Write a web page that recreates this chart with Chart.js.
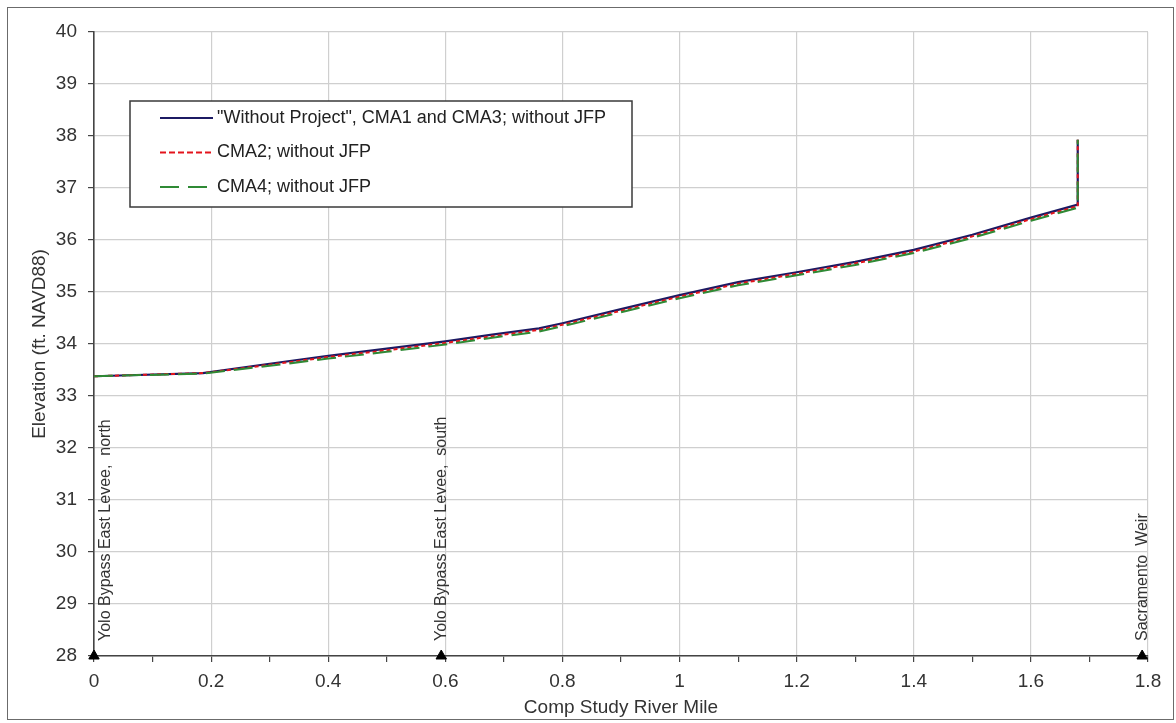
<!DOCTYPE html>
<html>
<head>
<meta charset="utf-8">
<script src="https://cdn.jsdelivr.net/npm/chart.js@4"></script>
<style>
    html, body { margin: 0; padding: 0; background: #ffffff; }
    #wrap { position: relative; width: 1176px; height: 723px; }
    #frame { position: absolute; left: 7px; top: 7px; width: 1167px; height: 713px; border: 1px solid #6b6b6b; box-sizing: border-box; pointer-events: none; }
</style>
</head>
<body>
<div id="wrap">
    <canvas id="elevChart" width="1176" height="723"></canvas>
    <div id="frame"></div>
</div>
<script>
// River mile stations and water surface elevations (ft NAVD88)
const riverMile = [0, 0.186, 0.3, 0.4, 0.5, 0.6, 0.68, 0.76, 0.8, 0.9, 1.0, 1.1, 1.2, 1.3, 1.4, 1.5, 1.6, 1.68, 1.68];
const withoutProject = [33.38, 33.44, 33.62, 33.77, 33.91, 34.05, 34.18, 34.30, 34.40, 34.67, 34.94, 35.19, 35.38, 35.58, 35.81, 36.10, 36.43, 36.68, 37.93];
const cma2 = [33.38, 33.44, 33.60, 33.75, 33.88, 34.02, 34.15, 34.27, 34.37, 34.64, 34.91, 35.16, 35.35, 35.55, 35.78, 36.07, 36.40, 36.65, 37.93];
const cma4 = [33.38, 33.43, 33.58, 33.72, 33.85, 33.99, 34.12, 34.24, 34.34, 34.61, 34.88, 35.13, 35.32, 35.52, 35.75, 36.04, 36.37, 36.62, 37.93];

const seriesNames = ['"Without Project", CMA1 and CMA3; without JFP', 'CMA2; without JFP', 'CMA4; without JFP'];

// Landmark markers along the axis
const landmarkMile = [0, 0.593, 1.79];
const landmarkElev = [28, 28, 28];
const landmarkNames = ['Yolo Bypass East Levee,  north', 'Yolo Bypass East Levee,  south', 'Sacramento  Weir'];

// Axis ranges
const xMin = 0, xMax = 1.8, xStep = 0.1;
const yMin = 28, yMax = 40, yStep = 1;

const FONT = "'Liberation Sans', Arial, sans-serif";

function toPoints(xs, ys) {
    return xs.map((x, i) => ({ x: x, y: ys[i] }));
}

// Draws the inset legend box
const insetLegend = {
    id: 'insetLegend',
    afterDraw(chart) {
        const ctx = chart.ctx;
        const left = 130, top = 101, w = 502, h = 106;
        ctx.save();
        ctx.fillStyle = '#ffffff';
        ctx.fillRect(left, top, w, h);
        ctx.strokeStyle = '#3a3a3a';
        ctx.lineWidth = 1.5;
        ctx.strokeRect(left, top, w, h);

        const sets = chart.data.datasets.slice(0, 3);
        sets.forEach((ds, i) => {
            const y = top + 17 + i * 34.5;
            ctx.beginPath();
            ctx.strokeStyle = ds.borderColor;
            ctx.lineWidth = ds.borderWidth;
            ctx.setLineDash(i === 1 ? [6, 3] : (ds.borderDash || []));
            ctx.moveTo(160, y);
            ctx.lineTo(213, y);
            ctx.stroke();
            ctx.setLineDash([]);
            ctx.fillStyle = '#222';
            ctx.font = '18px ' + FONT;
            ctx.textBaseline = 'middle';
            ctx.textAlign = 'left';
            ctx.fillText(seriesNames[i], 217, y);
        });
        ctx.restore();
    }
};

// Vertical labels above the landmark triangles
const landmarkLabels = {
    id: 'landmarkLabels',
    afterDatasetsDraw(chart) {
        const ctx = chart.ctx;
        const xs = chart.scales.x;
        const ys = chart.scales.y;
        ctx.save();
        ctx.font = '16px ' + FONT;
        ctx.fillStyle = '#333';
        ctx.textAlign = 'left';
        ctx.textBaseline = 'middle';
        landmarkMile.forEach((m, i) => {
            let px = xs.getPixelForValue(m);
            if (i === 0) px += 12; // keep the first label inside the plot
            const py = ys.getPixelForValue(landmarkElev[i]) - 15;
            ctx.save();
            ctx.translate(px, py);
            ctx.rotate(-Math.PI / 2);
            ctx.fillText(landmarkNames[i], 0, 0);
            ctx.restore();
        });
        ctx.restore();
    }
};

const isMajor = v => Math.round(v * 10) % 2 === 0;

new Chart(document.getElementById('elevChart'), {
    type: 'scatter',
    data: {
        datasets: [
            {
                label: seriesNames[0],
                data: toPoints(riverMile, withoutProject),
                showLine: true,
                borderColor: '#1c1a63',
                borderWidth: 2.2,
                pointRadius: 0,
                order: 3
            },
            {
                label: seriesNames[1],
                data: toPoints(riverMile, cma2),
                showLine: true,
                borderColor: '#e3141c',
                borderWidth: 2,
                borderDash: [4, 3],
                pointRadius: 0,
                order: 2
            },
            {
                label: seriesNames[2],
                data: toPoints(riverMile, cma4),
                showLine: true,
                borderColor: '#2f8a35',
                borderWidth: 2,
                borderDash: [19, 9],
                pointRadius: 0,
                order: 1
            },
            {
                label: 'Landmarks',
                data: toPoints(landmarkMile, landmarkElev),
                showLine: false,
                pointStyle: 'triangle',
                pointRadius: 6,
                backgroundColor: '#000',
                borderColor: '#000',
                borderWidth: 1,
                clip: false,
                order: 0
            }
        ]
    },
    options: {
        responsive: false,
        animation: false,
        events: [],
        layout: { padding: { left: 0, right: 28, top: 32, bottom: 0 } },
        plugins: {
            legend: { display: false },
            tooltip: { enabled: false }
        },
        scales: {
            x: {
                type: 'linear',
                min: xMin,
                max: xMax,
                afterFit: s => { s.height = 67; },
                ticks: {
                    stepSize: xStep,
                    autoSkip: false,
                    maxRotation: 0,
                    padding: 8,
                    color: '#333',
                    font: { family: FONT, size: 19 },
                    callback: v => isMajor(v) ? String(Math.round(v * 10) / 10) : ''
                },
                grid: {
                    color: c => isMajor(c.tick.value) ? '#cfcfcf' : 'rgba(0,0,0,0)',
                    lineWidth: 1.2,
                    tickColor: '#444',
                    tickLength: 6
                },
                border: { color: '#444', width: 1.6 },
                title: {
                    display: true,
                    text: 'Comp Study River Mile',
                    color: '#333',
                    font: { family: FONT, size: 19 },
                    padding: { top: 0, bottom: 4 }
                }
            },
            y: {
                type: 'linear',
                min: yMin,
                max: yMax,
                afterFit: s => { s.width = 94; },
                ticks: {
                    stepSize: yStep,
                    padding: 11,
                    color: '#333',
                    font: { family: FONT, size: 19 }
                },
                grid: {
                    color: '#cfcfcf',
                    lineWidth: 1.2,
                    tickColor: '#444',
                    tickLength: 6
                },
                border: { color: '#444', width: 1.6 },
                title: {
                    display: true,
                    text: 'Elevation (ft. NAVD88)',
                    color: '#333',
                    font: { family: FONT, size: 19 },
                    padding: { top: 28, bottom: 0 }
                }
            }
        }
    },
    plugins: [insetLegend, landmarkLabels]
});
</script>
</body>
</html>
